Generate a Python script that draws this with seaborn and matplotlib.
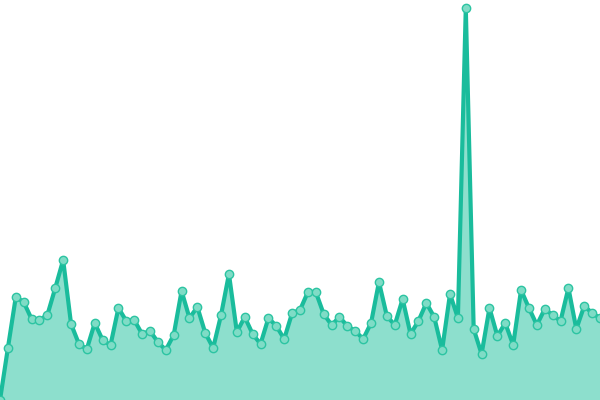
import numpy as np
import pandas as pd
import seaborn as sns
import matplotlib.pyplot as plt

# values (bottom of the chart = 0)
values = [
    0, 52, 103, 98, 81, 80, 85, 112, 140, 76,
    56, 51, 77, 60, 55, 92, 79, 80, 66, 69,
    58, 50, 65, 109, 82, 93, 67, 52, 85, 126,
    68, 83, 66, 56, 82, 74, 61, 87, 90, 108,
    108, 86, 75, 83, 74, 69, 61, 77, 118, 84,
    75, 101, 66, 79, 97, 83, 50, 106, 82, 392,
    71, 46, 92, 64, 77, 55, 110, 92, 75, 91,
    85, 79, 112, 71, 94, 87, 82,
]
index = list(range(len(values)))

line_color = "#1abc9c"
fill_color = "#8ddfcd"

df = pd.DataFrame({"index": index, "value": values})

sns.set_theme(style="white")
fig = plt.figure(figsize=(6, 4), dpi=100)
ax = fig.add_axes([0, 0, 1, 1])

ax.fill_between(df["index"], df["value"], 0, color=fill_color, linewidth=0)
sns.lineplot(
    data=df, x="index", y="value", ax=ax,
    color=line_color, linewidth=3, marker="o", markersize=6,
    markerfacecolor="#7fdcc6", markeredgecolor="#2cc4a2", markeredgewidth=1,
)
ax.lines[0].set_solid_joinstyle("round")

ax.set_xlim(0, len(values) - 1)
ax.set_ylim(0, 400)
ax.axis("off")

plt.savefig("out.png", dpi=100)
